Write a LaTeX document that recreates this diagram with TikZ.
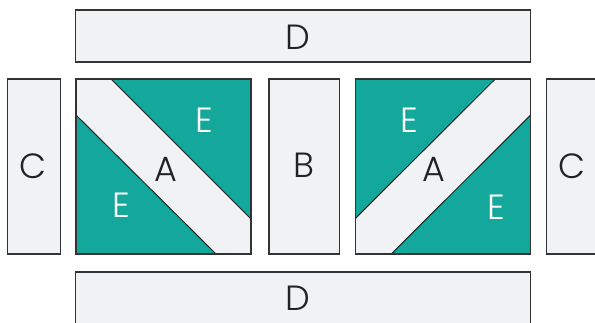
\documentclass[tikz,border=0pt]{standalone}
\usepackage{fontspec}
\setmainfont{Poppins Light}
\definecolor{teal}{HTML}{13A89B}
\definecolor{pale}{HTML}{F1F2F4}
\definecolor{edge}{HTML}{333333}
\definecolor{ink}{HTML}{222222}
\begin{document}
\begin{tikzpicture}[x=1pt,y=-1pt,
  box/.style={draw=edge,fill=pale,line width=1.1pt,inner sep=0pt,outer sep=0pt},
  lab/.style={font=\fontsize{35}{35}\selectfont,text=ink,inner sep=0pt},
  wlab/.style={font=\fontsize{35}{35}\selectfont,text=white,inner sep=0pt},
  seam/.style={draw=ink,line width=1pt}]
\useasboundingbox (0,0) rectangle (595,323);
\clip (0,0) rectangle (595,323);
% top and bottom D
\node[box,minimum width=455pt,minimum height=52pt] (Dt) at (303.35,36) {};
\node[box,minimum width=455pt,minimum height=70pt] (Db) at (303.35,307) {};
% C strips
\node[box,minimum width=53pt,minimum height=175pt] (Cl) at (34,166.5) {};
\node[box,minimum width=70pt,minimum height=175pt] (Cr) at (581.7,166.5) {};
% B strip
\node[box,minimum width=70.3pt,minimum height=175pt] (B) at (304.15,166.5) {};
% left A block
\fill[teal] (76,79) rectangle (251,254);
\fill[pale] (76,79) -- (111,79) -- (251,219) -- (251,254) -- (216,254) -- (76,115) -- cycle;
\coordinate (l1) at (111,79); \coordinate (l2) at (251,219);
\coordinate (l3) at (76,115); \coordinate (l4) at (216,254);
\draw[seam] (l1) -- (l2); \draw[seam] (l3) -- (l4);
\draw[draw=edge,line width=1.1pt] (76,79) rectangle (251,254);
% right A block
\fill[teal] (355.3,79) rectangle (530.7,254);
\fill[pale] (495.3,79) -- (530.7,79) -- (530.7,115) -- (391.3,254) -- (355.3,254) -- (355.3,218.5) -- cycle;
\coordinate (r1) at (495.3,79); \coordinate (r2) at (355.3,218.5);
\coordinate (r3) at (530.7,115); \coordinate (r4) at (391.3,254);
\draw[seam] (r1) -- (r2); \draw[seam] (r3) -- (r4);
\draw[draw=edge,line width=1.1pt] (355.3,79) rectangle (530.7,254);
% labels
\node[lab] (tD) at (298,37) {D};
\node[lab] (bD) at (298,298) {D};
\node[lab] (tCl) at (33,166) {C};
\node[lab] (tCr) at (572,166) {C};
\node[lab] (tB) at (304,165) {B};
\node[lab] (tAl) at (166,169) {A};
\node[lab] (tAr) at (434,169) {A};
\node[wlab] (tE1) at (204,120) {E};
\node[wlab] (tE2) at (121,205) {E};
\node[wlab] (tE3) at (409,120) {E};
\node[wlab] (tE4) at (496,207) {E};
\end{tikzpicture}
\end{document}
